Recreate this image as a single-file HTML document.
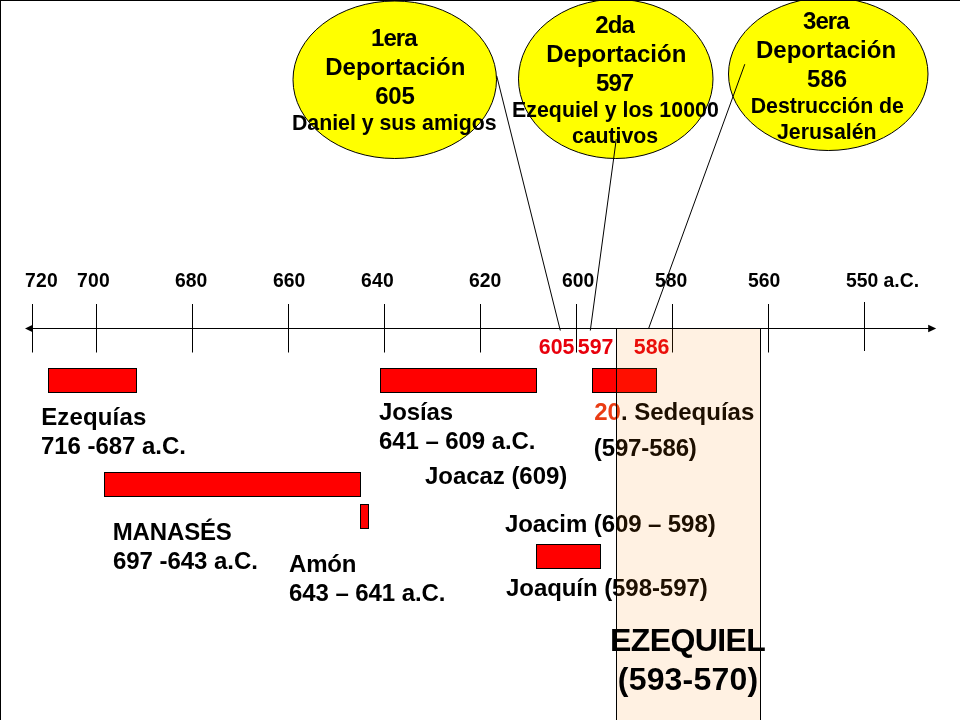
<!DOCTYPE html>
<html lang="es">
<head>
<meta charset="utf-8">
<title>Cronología: Ezequiel (593-570)</title>
<style>
html,body{margin:0;padding:0;background:#fff;}
body{width:960px;height:720px;position:relative;overflow:hidden;}
svg{position:absolute;left:0;top:0;display:block;}
svg text{font-family:"Liberation Sans",Arial,Helvetica,sans-serif;font-weight:bold;white-space:pre;}
</style>
</head>
<body>
<svg width="960" height="720" viewBox="0 0 960 720">
  <rect x="0" y="0" width="960" height="720" fill="#ffffff"/>
  <!-- deportation bubbles -->
  <g fill="#ffff00" stroke="#000" stroke-width="1">
    <ellipse cx="394.75" cy="79.75" rx="101.75" ry="78.75"/>
    <ellipse cx="615.75" cy="78.9" rx="97.25" ry="79.6"/>
    <ellipse cx="828.25" cy="74" rx="99.75" ry="76.5"/>
  </g>
  <!-- leader lines -->
  <g stroke="#000" stroke-width="1" fill="none">
    <line x1="496.7" y1="75.8" x2="560.3" y2="330.5"/>
    <line x1="616.3" y1="139" x2="590.3" y2="330.5"/>
    <line x1="744.8" y1="64.2" x2="648.6" y2="328.5"/>
  </g>
  <!-- timeline -->
  <g stroke="#000" stroke-width="1" fill="none">
    <line x1="30" y1="328.5" x2="930" y2="328.5"/>
    <line x1="32.5" y1="304" x2="32.5" y2="352.5"/>
    <line x1="96.5" y1="304" x2="96.5" y2="352.5"/>
    <line x1="192.5" y1="304" x2="192.5" y2="352.5"/>
    <line x1="288.5" y1="304" x2="288.5" y2="352.5"/>
    <line x1="384.5" y1="304" x2="384.5" y2="352.5"/>
    <line x1="480.5" y1="304" x2="480.5" y2="352.5"/>
    <line x1="576.5" y1="304" x2="576.5" y2="352.5"/>
    <line x1="672.5" y1="304" x2="672.5" y2="352.5"/>
    <line x1="768.5" y1="304" x2="768.5" y2="352.5"/>
    <line x1="864.5" y1="302" x2="864.5" y2="351"/>
  </g>
  <polygon points="25,328.5 32.8,324.8 32.8,332.2" fill="#000"/>
  <polygon points="936.2,328.5 928.2,324.8 928.2,332.2" fill="#000"/>
  <!-- reign bars -->
  <g fill="#ff0000" stroke="#000" stroke-width="1">
    <rect x="48.5" y="368.5" width="88" height="24"/>
    <rect x="104.5" y="472.5" width="256" height="24"/>
    <rect x="360.5" y="504.5" width="8" height="24"/>
    <rect x="380.5" y="368.5" width="156" height="24"/>
    <rect x="592.5" y="368.5" width="64" height="24"/>
    <rect x="536.5" y="544.5" width="64" height="24"/>
  </g>
  <text id="e1a" x="371.00" y="46.00" font-size="24" fill="#000" textLength="46.49" lengthAdjust="spacing">1era</text>
  <text id="e1b" x="325.20" y="75.00" font-size="24" fill="#000" textLength="140.12" lengthAdjust="spacing">Deportación</text>
  <text id="e1c" x="375.20" y="104.20" font-size="24" fill="#000" textLength="39.55" lengthAdjust="spacing">605</text>
  <text id="e1d" x="292.00" y="130.30" font-size="21.33" fill="#000" textLength="204.58" lengthAdjust="spacing">Daniel y sus amigos</text>
  <text id="e2a" x="595.20" y="33.20" font-size="24" fill="#000" textLength="39.56" lengthAdjust="spacing">2da</text>
  <text id="e2b" x="546.20" y="62.20" font-size="24" fill="#000" textLength="140.12" lengthAdjust="spacing">Deportación</text>
  <text id="e2c" x="596.00" y="91.20" font-size="24" fill="#000" textLength="38.15" lengthAdjust="spacing">597</text>
  <text id="e2d" x="512.00" y="117.00" font-size="21.33" fill="#000" textLength="206.80" lengthAdjust="spacing">Ezequiel y los 10000</text>
  <text id="e2e" x="572.00" y="143.00" font-size="21.33" fill="#000" textLength="86.03" lengthAdjust="spacing">cautivos</text>
  <text id="e3a" x="803.00" y="29.00" font-size="24" fill="#000" textLength="46.49" lengthAdjust="spacing">3era</text>
  <text id="e3b" x="756.00" y="58.30" font-size="24" fill="#000" textLength="140.12" lengthAdjust="spacing">Deportación</text>
  <text id="e3c" x="807.00" y="87.00" font-size="24" fill="#000" textLength="40.15" lengthAdjust="spacing">586</text>
  <text id="e3d" x="750.80" y="113.00" font-size="21.33" fill="#000" textLength="153.08" lengthAdjust="spacing">Destrucción de</text>
  <text id="e3e" x="777.00" y="139.00" font-size="21.33" fill="#000" textLength="99.59" lengthAdjust="spacing">Jerusalén</text>
  <text id="y720" x="25.00" y="287.00" font-size="19.33" fill="#000" textLength="32.75" lengthAdjust="spacing">720</text>
  <text id="y700" x="77.00" y="287.00" font-size="19.33" fill="#000" textLength="32.75" lengthAdjust="spacing">700</text>
  <text id="y680" x="175.00" y="287.00" font-size="19.33" fill="#000" textLength="32.25" lengthAdjust="spacing">680</text>
  <text id="y660" x="273.00" y="287.00" font-size="19.33" fill="#000" textLength="32.25" lengthAdjust="spacing">660</text>
  <text id="y640" x="361.00" y="287.00" font-size="19.33" fill="#000" textLength="32.75" lengthAdjust="spacing">640</text>
  <text id="y620" x="469.00" y="287.00" font-size="19.33" fill="#000" textLength="32.25" lengthAdjust="spacing">620</text>
  <text id="y600" x="562.00" y="287.00" font-size="19.33" fill="#000" textLength="32.25" lengthAdjust="spacing">600</text>
  <text id="y580" x="655.00" y="287.00" font-size="19.33" fill="#000" textLength="32.25" lengthAdjust="spacing">580</text>
  <text id="y560" x="748.00" y="287.00" font-size="19.33" fill="#000" textLength="32.15" lengthAdjust="spacing">560</text>
  <text id="y550" x="846.00" y="287.00" font-size="19.33" fill="#000" textLength="73.08" lengthAdjust="spacing">550 a.C.</text>
  <text id="r605" x="538.80" y="354.10" font-size="21.33" fill="#e8000c" textLength="35.59" lengthAdjust="spacing">605</text>
  <text id="r597" x="577.80" y="354.10" font-size="21.33" fill="#e8000c" textLength="35.59" lengthAdjust="spacing">597</text>
  <text id="r586" x="633.80" y="354.10" font-size="21.33" fill="#e8000c" textLength="35.59" lengthAdjust="spacing">586</text>
  <text id="k1a" x="41.20" y="424.60" font-size="24" fill="#000" textLength="105.05" lengthAdjust="spacing">Ezequías</text>
  <text id="k1b" x="41.00" y="453.50" font-size="24" fill="#000" textLength="144.94" lengthAdjust="spacing">716 -687 a.C.</text>
  <text id="k2a" x="112.80" y="540.20" font-size="24" fill="#000" textLength="119.02" lengthAdjust="spacing">MANASÉS</text>
  <text id="k2b" x="113.00" y="568.50" font-size="24" fill="#000" textLength="144.94" lengthAdjust="spacing">697 -643 a.C.</text>
  <text id="k3a" x="289.00" y="572.00" font-size="24" fill="#000" textLength="67.50" lengthAdjust="spacing">Amón</text>
  <text id="k3b" x="289.00" y="600.80" font-size="24" fill="#000" textLength="156.45" lengthAdjust="spacing">643 – 641 a.C.</text>
  <text id="k4a" x="379.00" y="420.00" font-size="24" fill="#000" textLength="74.22" lengthAdjust="spacing">Josías</text>
  <text id="k4b" x="379.00" y="448.70" font-size="24" fill="#000" textLength="156.45" lengthAdjust="spacing">641 – 609 a.C.</text>
  <text id="k5" x="425.00" y="483.60" font-size="24" fill="#000" textLength="142.25" lengthAdjust="spacing">Joacaz (609)</text>
  <text id="k6a" x="594.20" y="419.50" font-size="24" fill="#000" textLength="160.09" lengthAdjust="spacing"><tspan fill="#ea3c14">20</tspan>. Sedequías</text>
  <text id="k6b" x="593.80" y="455.50" font-size="24" fill="#000" textLength="103.06" lengthAdjust="spacing">(597-586)</text>
  <text id="k7" x="505.00" y="531.50" font-size="24" fill="#000" textLength="210.64" lengthAdjust="spacing">Joacim (609 – 598)</text>
  <text id="k8" x="506.00" y="596.00" font-size="24" fill="#000" textLength="201.73" lengthAdjust="spacing">Joaquín (598-597)</text>
  <!-- Ezekiel ministry span (translucent) -->
  <rect id="ov" x="616.5" y="328.5" width="144" height="400" fill="#ff8000" fill-opacity="0.115" stroke="#000" stroke-width="1"/>
  <text id="z1" x="610.00" y="651.40" font-size="32" fill="#000" textLength="155.82" lengthAdjust="spacing">EZEQUIEL</text>
  <text id="z2" x="617.80" y="689.60" font-size="32" fill="#000" textLength="140.25" lengthAdjust="spacing">(593-570)</text>
  <!-- slide frame edges -->
  <rect x="0" y="0" width="960" height="1" fill="#000"/>
  <rect x="0" y="0" width="1" height="720" fill="#000"/>
</svg>
</body>
</html>
